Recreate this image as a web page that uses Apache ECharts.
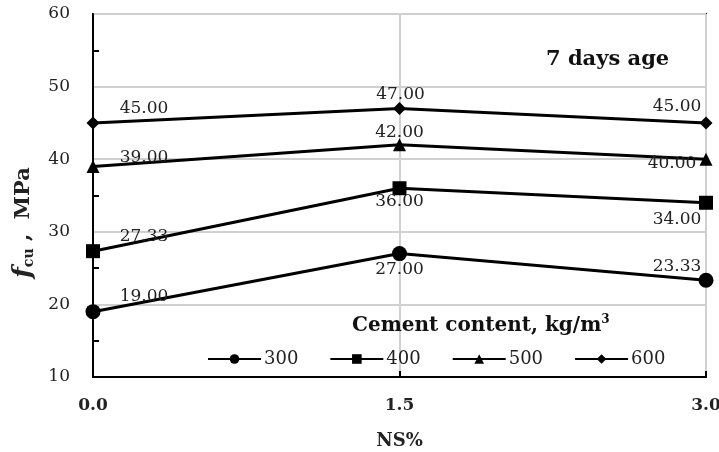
<!DOCTYPE html>
<html>
<head>
<meta charset="utf-8">
<script src="https://cdn.jsdelivr.net/npm/echarts@6/dist/echarts.min.js"></script>
<style>
  html, body { margin: 0; padding: 0; background: #fff; }
  #chart { width: 719px; height: 452px; }
</style>
</head>
<body>
<div id="chart"></div>
<script>
// NS% levels on the x axis
const nsLevels = [0, 1.5, 3.0];
// cement content series names (kg/m3)
const cementContents = ["300", "400", "500", "600"];
// fcu values, MPa, 7 days
const fcu300 = [19.00, 27.00, 23.33];
const fcu400 = [27.33, 36.00, 34.00];
const fcu500 = [39.00, 42.00, 40.00];
const fcu600 = [45.00, 47.00, 45.00];
const yTicks = [10, 20, 30, 40, 50, 60];
const yMinorTicks = [15, 25, 35, 45, 55];

(function () {
  const chartDom = document.getElementById("chart");
  const myChart = echarts.init(chartDom, null, { renderer: "canvas" });

  const serif = "DejaVu Serif";
  const allValues = [fcu300, fcu400, fcu500, fcu600];
  const symbols = ["circle", "rect", "triangle", "diamond"];
  const symbolSizes = [15, 14, 13, 13];
  // 数据标签相对位置 (label placement, pixels)
  const labelShift = [
    [[51, -15], [0, 16], [-29, -14]],
    [[51, -15], [0, 13], [-29, 17]],
    [[51, -9], [0, -12], [-34, 4]],
    [[51, -14], [1, -14], [-29, -16]]
  ];

  const series = cementContents.map((name, s) => ({
    name,
    type: "line",
    symbol: symbols[s],
    symbolSize: symbolSizes[s],
    itemStyle: { color: "#000" },
    lineStyle: { color: "#000", width: 3 },
    label: {
      show: true,
      position: "inside",
      fontFamily: serif,
      fontSize: 17,
      color: "#222",
      formatter: (p) => p.value[1].toFixed(2)
    },
    emphasis: { disabled: true },
    z: 3,
    data: nsLevels.map((x, i) => ({
      value: [x, allValues[s][i]],
      label: { offset: labelShift[s][i] }
    }))
  }));

  const yMin = yTicks[0];
  const yMax = yTicks[yTicks.length - 1];

  const option = {
    animation: false,
    backgroundColor: "#fff",
    title: [
      {
        text: "7 days age",
        left: 541,
        top: 44,
        textStyle: { fontFamily: serif, fontSize: 21, fontWeight: "bold", color: "#111" }
      },
      {
        text: "Cement content, kg/m{sup|3}",
        left: 347,
        top: 309,
        textStyle: {
          fontFamily: serif,
          fontSize: 20,
          fontWeight: "bold",
          color: "#111",
          rich: {
            sup: { fontFamily: serif, fontSize: 12, fontWeight: "bold", verticalAlign: "top", padding: [0, 0, 12, 0] }
          }
        }
      }
    ],
    legend: {
      left: 202,
      top: 345,
      itemWidth: 53,
      itemHeight: 12,
      itemGap: 31,
      textStyle: { fontFamily: serif, fontSize: 18, color: "#222", padding: [0, 0, 0, -2] },
      data: cementContents
    },
    grid: {
      left: 93,
      right: 13,
      top: 14,
      bottom: 75,
      outerBoundsMode: "none",
      show: true,
      borderColor: "#000",
      borderWidth: 2,
      backgroundColor: "transparent"
    },
    xAxis: {
      type: "value",
      min: 0,
      max: 3,
      interval: 1.5,
      name: "NS%",
      nameLocation: "middle",
      nameGap: 55,
      nameTextStyle: { fontFamily: serif, fontSize: 18, fontWeight: "bold", color: "#222" },
      axisLine: { lineStyle: { color: "#000", width: 2 } },
      axisTick: { show: true, inside: true, length: 6, lineStyle: { color: "#000", width: 2 } },
      axisLabel: {
        fontFamily: serif,
        fontSize: 17,
        fontWeight: "bold",
        color: "#222",
        margin: 20,
        formatter: (v) => v.toFixed(1)
      },
      splitLine: { show: true, lineStyle: { color: "#d0d0d0", width: 2 } }
    },
    yAxis: [
      {
        type: "value",
        min: yMin,
        max: yMax,
        interval: 10,
        name: "{f|f}{sub|cu}{t| ,  MPa}",
        nameLocation: "middle",
        nameGap: 57,
        nameRotate: 90,
        nameTextStyle: {
          color: "#222",
          padding: [0, 54, 0, 0],
          rich: {
            f: { fontFamily: serif, fontSize: 25, fontWeight: "bold", fontStyle: "italic", color: "#222" },
            sub: { fontFamily: serif, fontSize: 14, fontWeight: "bold", color: "#222", verticalAlign: "bottom", padding: [8, 0, 0, 0] },
            t: { fontFamily: serif, fontSize: 21, fontWeight: "bold", color: "#222" }
          }
        },
        axisLine: { show: true, lineStyle: { color: "#000", width: 2 } },
        axisTick: { show: false },
        axisLabel: { fontFamily: serif, fontSize: 17, color: "#222", margin: 23 },
        splitLine: { show: true, lineStyle: { color: "#d0d0d0", width: 2 } }
      },
      {
        // minor ticks only, pointing into the plot
        type: "value",
        position: "left",
        min: yMin,
        max: yMax,
        interval: 10,
        axisLine: { show: false },
        axisLabel: { show: false },
        splitLine: { show: false },
        axisTick: {
          show: true,
          inside: true,
          length: 6,
          customValues: yMinorTicks,
          lineStyle: { color: "#000", width: 2 }
        }
      }
    ],
    series
  };
  myChart.setOption(option);
})();
</script>
</body>
</html>
